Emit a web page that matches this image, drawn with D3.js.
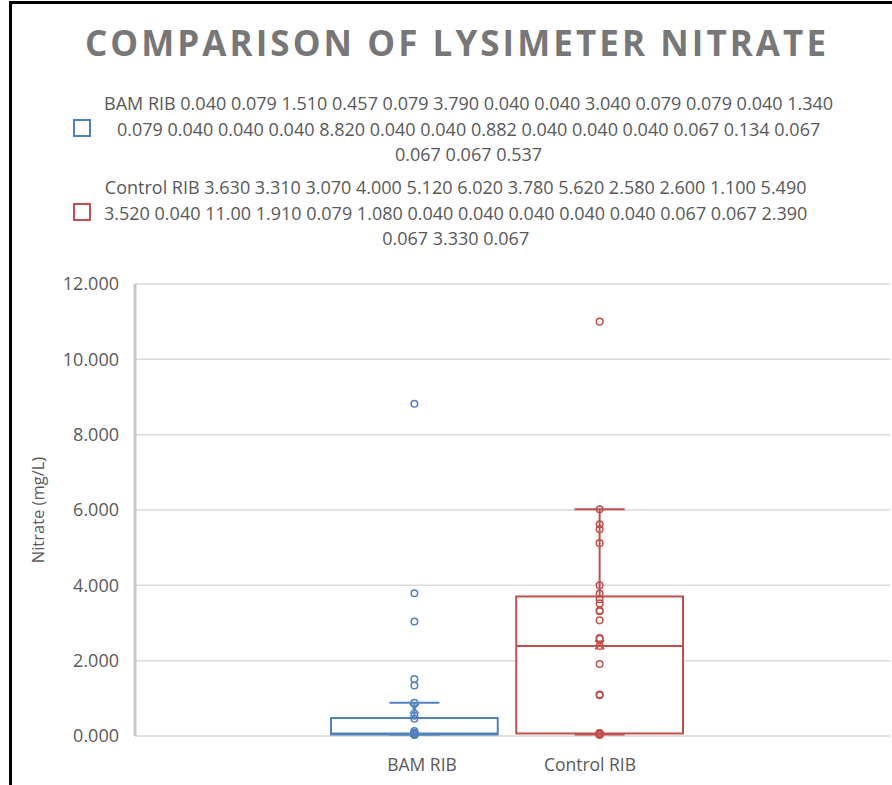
<!DOCTYPE html>
<html>
<head>
<meta charset="utf-8">
<script src="https://cdn.jsdelivr.net/npm/d3@7"></script>
<style>
  body { margin: 0; background: #fff; }
  svg { display: block; }
  text { font-family: "Open Sans", sans-serif; }
</style>
</head>
<body>
<div id="chart"></div>
<script>
const titleText = 'COMPARISON OF LYSIMETER NITRATE';
const axisTitle = 'Nitrate (mg/L)';
const seriesNames = ['BAM RIB', 'Control RIB'];
const bamValues = [
  0.040, 0.079, 1.510, 0.457, 0.079, 3.790, 0.040, 0.040, 3.040, 0.079,
  0.079, 0.040, 1.340, 0.079, 0.040, 0.040, 0.040, 8.820, 0.040, 0.040,
  0.882, 0.040, 0.040, 0.040, 0.067, 0.134, 0.067, 0.067, 0.067, 0.537
];
const controlValues = [
  3.630, 3.310, 3.070, 4.000, 5.120, 6.020, 3.780, 5.620, 2.580, 2.600,
  1.100, 5.490, 3.520, 0.040, 11.00, 1.910, 0.079, 1.080, 0.040, 0.040,
  0.040, 0.040, 0.040, 0.067, 0.067, 2.390, 0.067, 3.330, 0.067
];
const yTicks = [0, 2, 4, 6, 8, 10, 12];
const colors = ['#4F81BD', '#C0504D'];

const width = 892;
const height = 785;
const plot = { left: 135, right: 890, top: 284, bottom: 736 };
const textColor = '#595959';

// Excel default quartiles (exclusive median method)
function quartileExc (sorted, p) {
  const n = sorted.length;
  const pos = (n + 1) * p;
  const lo = Math.floor(pos);
  if (lo < 1) return sorted[0];
  if (lo >= n) return sorted[n - 1];
  return sorted[lo - 1] + (pos - lo) * (sorted[lo] - sorted[lo - 1]);
}

function boxStats (values) {
  const sorted = values.slice().sort(d3.ascending);
  const q1 = quartileExc(sorted, 0.25);
  const median = quartileExc(sorted, 0.5);
  const q3 = quartileExc(sorted, 0.75);
  const iqr = q3 - q1;
  const low = d3.min(sorted.filter((v) => v >= q1 - 1.5 * iqr));
  const high = d3.max(sorted.filter((v) => v <= q3 + 1.5 * iqr));
  return { q1, median, q3, low, high, mean: d3.mean(sorted) };
}

function formatValue (v) {
  return v >= 10 ? v.toFixed(2) : v.toFixed(3);
}

const series = [
  { name: seriesNames[0], values: bamValues, color: colors[0] },
  { name: seriesNames[1], values: controlValues, color: colors[1] }
].map((s) => ({ ...s, stats: boxStats(s.values) }));

const svg = d3.select('#chart')
  .append('svg')
  .attr('width', width)
  .attr('height', height);

// frame edges visible in the screenshot
svg.append('path')
  .attr('d', `M10.5,${height} V2.5 H${width}`)
  .attr('fill', 'none')
  .attr('stroke', '#000')
  .attr('stroke-width', 3);

svg.append('text')
  .attr('x', 455.5)
  .attr('y', 56)
  .attr('text-anchor', 'middle')
  .attr('textLength', 741)
  .attr('lengthAdjust', 'spacing')
  .style('font-size', '35px')
  .style('font-weight', 700)
  .style('fill', '#777')
  .text(titleText);

// legend: each entry's text wrapped, lines centred inside a left-aligned block
const legend = svg.append('g');
const legendLeft = 104;
const lineHeight = 25.5;
const maxLine = 745;
let baseline = 110;

series.forEach((s) => {
  const words = [s.name].concat(s.values.map(formatValue));
  const probe = legend.append('text').style('font-size', '18px');
  const lines = [];
  let current = '';
  words.forEach((w, i) => {
    const trial = current ? `${current} ${w}` : w;
    probe.text(trial);
    if (current && probe.node().getComputedTextLength() > maxLine && i > 1) {
      lines.push(current);
      current = w;
    } else {
      current = trial;
    }
  });
  lines.push(current);
  const widths = lines.map((l) => {
    probe.text(l);
    return probe.node().getComputedTextLength();
  });
  probe.remove();

  const blockCenter = legendLeft + d3.max(widths) / 2;
  lines.forEach((l, i) => {
    legend.append('text')
      .attr('x', blockCenter)
      .attr('y', baseline + i * lineHeight)
      .attr('text-anchor', 'middle')
      .style('font-size', '18px')
      .style('fill', textColor)
      .text(l);
  });

  const middle = baseline + ((lines.length - 1) / 2) * lineHeight - 7.5;
  legend.append('rect')
    .attr('x', 74)
    .attr('y', middle - 8)
    .attr('width', 16)
    .attr('height', 16)
    .attr('fill', '#fff')
    .attr('stroke', s.color)
    .attr('stroke-width', 2);

  baseline += (lines.length - 1) * lineHeight + 33;
});

const y = d3.scaleLinear()
  .domain([0, 12])
  .range([plot.bottom, plot.top]);

const x = d3.scaleBand()
  .domain(seriesNames)
  .range([331, 683])
  .paddingInner(0.1);

const xLabel = d3.scalePoint()
  .domain(seriesNames)
  .range([422, 590]);

// gridlines
svg.append('g')
  .selectAll('line')
  .data(yTicks)
  .join('line')
  .attr('x1', plot.left)
  .attr('x2', plot.right)
  .attr('y1', (d) => y(d))
  .attr('y2', (d) => y(d))
  .attr('stroke', '#d9d9d9')
  .attr('stroke-width', 1.5);

svg.append('line')
  .attr('x1', plot.left)
  .attr('x2', plot.left)
  .attr('y1', plot.top)
  .attr('y2', plot.bottom)
  .attr('stroke', '#c8c8c8')
  .attr('stroke-width', 3);

const yAxis = svg.append('g')
  .attr('transform', `translate(119,0)`)
  .call(d3.axisLeft(y).tickValues(yTicks).tickFormat(d3.format('.3f')).tickSize(0).tickPadding(0));
yAxis.select('.domain').remove();
yAxis.selectAll('text')
  .style('font-size', '18px')
  .style('fill', textColor)
  .style('font-family', '"Open Sans", sans-serif');

svg.append('text')
  .attr('transform', `translate(37,${(plot.top + plot.bottom) / 2}) rotate(-90)`)
  .attr('text-anchor', 'middle')
  .attr('dominant-baseline', 'central')
  .style('font-size', '16.5px')
  .style('fill', textColor)
  .text(axisTitle);

svg.append('g')
  .selectAll('text')
  .data(seriesNames)
  .join('text')
  .attr('x', (d) => xLabel(d))
  .attr('y', 771)
  .attr('text-anchor', 'middle')
  .style('font-size', '17.5px')
  .style('fill', textColor)
  .text((d) => d);

// boxes
const boxes = svg.append('g')
  .selectAll('g')
  .data(series)
  .join('g')
  .attr('fill', 'none')
  .attr('stroke', (d) => d.color)
  .attr('stroke-width', 2);

boxes.each(function (d) {
  const g = d3.select(this);
  const st = d.stats;
  const x0 = x(d.name);
  const bw = x.bandwidth();
  const cx = x0 + bw / 2;
  const cap = bw * 0.3;

  g.append('line')
    .attr('x1', cx).attr('x2', cx)
    .attr('y1', y(st.q3)).attr('y2', y(st.high));
  g.append('line')
    .attr('x1', cx).attr('x2', cx)
    .attr('y1', y(st.q1)).attr('y2', y(st.low));
  [st.high, st.low].forEach((v) => {
    g.append('line')
      .attr('x1', cx - cap / 2).attr('x2', cx + cap / 2)
      .attr('y1', y(v)).attr('y2', y(v));
  });

  g.append('rect')
    .attr('x', x0)
    .attr('y', y(st.q3))
    .attr('width', bw)
    .attr('height', y(st.q1) - y(st.q3))
    .attr('fill', '#fff');

  g.append('line')
    .attr('x1', x0).attr('x2', x0 + bw)
    .attr('y1', y(st.median)).attr('y2', y(st.median));

  g.selectAll('circle')
    .data(d.values)
    .join('circle')
    .attr('cx', cx)
    .attr('cy', (v) => y(v))
    .attr('r', 3.3)
    .attr('stroke-width', 1.5);

  const m = 4.5;
  const my = y(st.mean);
  g.append('path')
    .attr('d', `M${cx - m},${my - m}L${cx + m},${my + m}M${cx - m},${my + m}L${cx + m},${my - m}`)
    .attr('stroke-width', 1.5);
});
</script>
</body>
</html>
